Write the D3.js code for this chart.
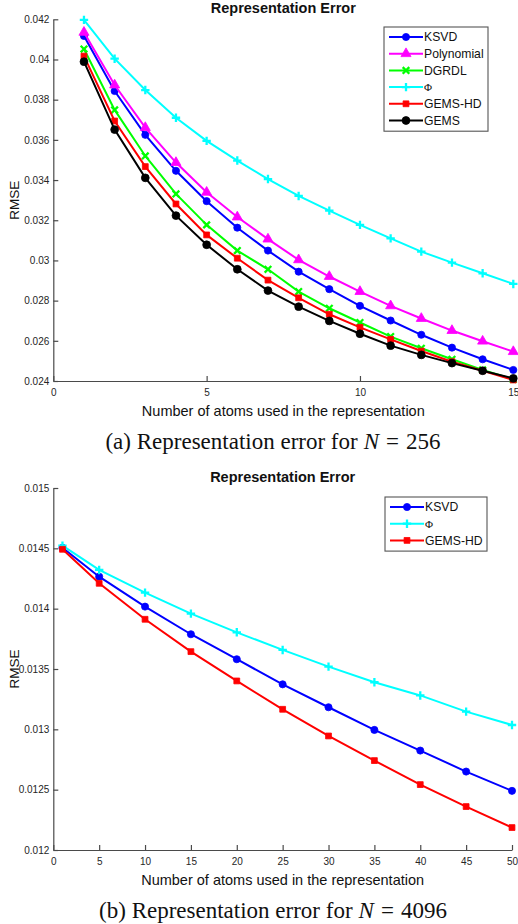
<!DOCTYPE html>
<html>
<head>
<meta charset="utf-8">
<script src="https://cdn.jsdelivr.net/npm/d3@7.9.0/dist/d3.min.js"></script>
<style>
  body { margin: 0; background: #fff; }
  svg { display: block; }
  .axis path, .axis line { stroke: #4a4a4a; stroke-width: 1.2; }
  .axis text { font-family: "Liberation Sans", Arial, sans-serif; font-size: 10px; fill: #262626; }
  .sans { font-family: "Liberation Sans", Arial, sans-serif; fill: #111; }
  .serif { font-family: "Liberation Serif", "Times New Roman", serif; fill: #111; }
</style>
</head>
<body>
<svg id="fig" width="518" height="924"></svg>
<script>
// ---- panel (a): N = 256 ----
const atomsA = [1, 2, 3, 4, 5, 6, 7, 8, 9, 10, 11, 12, 13, 14, 15];
const ksvdA = [0.04117, 0.03843, 0.03625, 0.03446, 0.03295, 0.03163, 0.03049, 0.02944,
  0.02857, 0.02774, 0.02701, 0.02630, 0.02566, 0.02508, 0.02455];
const polyA = [0.04135, 0.03873, 0.03661, 0.03487, 0.03339, 0.03216, 0.03106, 0.03003,
  0.02920, 0.02845, 0.02774, 0.02711, 0.02651, 0.02598, 0.02546];
const dgrdlA = [0.04052, 0.03749, 0.03520, 0.03331, 0.03177, 0.03049, 0.02956, 0.02845,
  0.02762, 0.02691, 0.02621, 0.02563, 0.02508, 0.02455, 0.02408];
const phiA = [0.04197, 0.04004, 0.03848, 0.03710, 0.03595, 0.03497, 0.03405, 0.03321,
  0.03248, 0.03177, 0.03110, 0.03044, 0.02989, 0.02936, 0.02883];
const gemsHdA = [0.04017, 0.03694, 0.03467, 0.03281, 0.03127, 0.03011, 0.02902, 0.02814,
  0.02732, 0.02667, 0.02607, 0.02549, 0.02496, 0.02451, 0.02405];
const gemsA = [0.03989, 0.03651, 0.03411, 0.03223, 0.03078, 0.02956, 0.02850, 0.02770,
  0.02699, 0.02635, 0.02576, 0.02530, 0.02489, 0.02451, 0.02413];
const xTicksA = [0, 5, 10, 15];
const yTicksA = [0.024, 0.026, 0.028, 0.030, 0.032, 0.034, 0.036, 0.038, 0.040, 0.042];
const yTickLabelsA = ["0.024", "0.026", "0.028", "0.03", "0.032", "0.034", "0.036", "0.038", "0.04", "0.042"];

// ---- panel (b): N = 4096 ----
const atomsB = [1, 5, 10, 15, 20, 25, 30, 35, 40, 45, 50];
const ksvdB = [0.014505, 0.014265, 0.014017, 0.013788, 0.013581, 0.013373, 0.013183,
  0.012995, 0.012824, 0.012650, 0.012490];
const phiB = [0.014522, 0.014321, 0.014133, 0.013959, 0.013804, 0.013658, 0.013520,
  0.013390, 0.013281, 0.013147, 0.013036];
const gemsHdB = [0.014492, 0.014210, 0.013912, 0.013644, 0.013401, 0.013166, 0.012945,
  0.012741, 0.012542, 0.012360, 0.012186];
const xTicksB = [0, 5, 10, 15, 20, 25, 30, 35, 40, 45, 50];
const yTicksB = [0.012, 0.0125, 0.013, 0.0135, 0.014, 0.0145, 0.015];
const yTickLabelsB = ["0.012", "0.0125", "0.013", "0.0135", "0.014", "0.0145", "0.015"];

const chartTitle = "Representation Error";
const xLabel = "Number of atoms used in the representation";
const yLabel = "RMSE";

const svg = d3.select("#fig");

// marker shapes
function markerPath(kind) {
  if (kind === "circle") return d3.symbol(d3.symbolCircle, 40)();
  if (kind === "bigcircle") return d3.symbol(d3.symbolCircle, 48)();
  if (kind === "triangle") return d3.symbol(d3.symbolTriangle, 44)();
  if (kind === "square") return d3.symbol(d3.symbolSquare, 34)();
  if (kind === "plus") return "M-4.2,0H4.2M0,-4.2V4.2";
  if (kind === "x") return "M-3.3,-3.3L3.3,3.3M-3.3,3.3L3.3,-3.3";
}
const strokedMarker = (kind) => kind === "plus" || kind === "x";

function drawMarker(g, kind, color, cx, cy) {
  g.append("path")
    .attr("d", markerPath(kind))
    .attr("transform", `translate(${cx},${cy})`)
    .attr("fill", strokedMarker(kind) ? "none" : color)
    .attr("stroke", color)
    .attr("stroke-width", strokedMarker(kind) ? 2.3 : 0.8);
}

function drawPanel(cfg) {
  const g = svg.append("g");
  const x = d3.scaleLinear().domain(cfg.xDomain).range([cfg.left, cfg.right]);
  const y = d3.scaleLinear().domain(cfg.yDomain).range([cfg.bottom, cfg.top]);

  g.append("g")
    .attr("class", "axis")
    .attr("transform", `translate(0,${cfg.bottom})`)
    .call(d3.axisBottom(x).tickValues(cfg.xTicks).tickFormat(d3.format("d"))
      .tickSizeInner(-5).tickSizeOuter(0).tickPadding(8));

  g.append("g")
    .attr("class", "axis")
    .attr("transform", `translate(${cfg.left},0)`)
    .call(d3.axisLeft(y).tickValues(cfg.yTicks).tickFormat((d, i) => cfg.yTickLabels[i])
      .tickSizeInner(-5).tickSizeOuter(0).tickPadding(4));

  // series
  const line = d3.line().x((d) => x(d[0])).y((d) => y(d[1]));
  cfg.series.forEach((s) => {
    const pts = cfg.xs.map((v, i) => [v, s.values[i]]);
    g.append("path")
      .datum(pts)
      .attr("d", line)
      .attr("fill", "none")
      .attr("stroke", s.color)
      .attr("stroke-width", 2);
    pts.forEach((p) => drawMarker(g, s.marker, s.color, x(p[0]), y(p[1])));
  });

  // title & axis labels
  const midX = (cfg.left + cfg.right) / 2;
  g.append("text").attr("class", "sans")
    .attr("x", midX).attr("y", cfg.top - 6)
    .attr("text-anchor", "middle")
    .attr("font-size", 14.5).attr("font-weight", "bold")
    .text(chartTitle);
  g.append("text").attr("class", "sans")
    .attr("x", midX).attr("y", cfg.bottom + 35)
    .attr("text-anchor", "middle")
    .attr("font-size", 14.5)
    .text(xLabel);
  g.append("text").attr("class", "sans")
    .attr("transform", `translate(19,${(cfg.top + cfg.bottom) / 2}) rotate(-90)`)
    .attr("text-anchor", "middle")
    .attr("font-size", 13.5)
    .text(yLabel);

  // legend
  const lg = g.append("g");
  const lh = 16.7;
  lg.append("rect")
    .attr("x", cfg.legend.x).attr("y", cfg.legend.y)
    .attr("width", cfg.legend.w).attr("height", cfg.series.length * lh + 4)
    .attr("fill", "#fff").attr("stroke", "#555").attr("stroke-width", 1.1);
  cfg.series.forEach((s, i) => {
    const cy = cfg.legend.y + 10 + i * lh;
    const x0 = cfg.legend.x + 5;
    lg.append("line")
      .attr("x1", x0).attr("x2", x0 + 34).attr("y1", cy).attr("y2", cy)
      .attr("stroke", s.color).attr("stroke-width", 2);
    drawMarker(lg, s.marker, s.color, x0 + 17, cy);
    const t = lg.append("text")
      .attr("x", x0 + 35).attr("y", cy + 4.3)
      .attr("font-size", 12.2);
    if (s.label === "Φ") {
      t.attr("class", "serif").attr("font-size", 11).text(s.label);
    } else {
      t.attr("class", "sans").text(s.label);
    }
  });

  // caption
  const cap = svg.append("text").attr("class", "serif")
    .attr("x", 273).attr("y", cfg.bottom + 68)
    .attr("text-anchor", "middle")
    .attr("font-size", 23);
  cap.append("tspan").text(cfg.caption[0]);
  cap.append("tspan").attr("dx", 6).attr("font-style", "italic").text("N");
  cap.append("tspan").attr("dx", 7).text("=");
  cap.append("tspan").attr("dx", 7).text(cfg.caption[1]);
}

drawPanel({
  left: 53.3, right: 513.3, top: 19.3, bottom: 381,
  xDomain: [0, 15], yDomain: [0.024, 0.042],
  xTicks: xTicksA, yTicks: yTicksA, yTickLabels: yTickLabelsA,
  xs: atomsA,
  series: [
    { label: "KSVD", values: ksvdA, color: "#0000ff", marker: "circle" },
    { label: "Polynomial", values: polyA, color: "#ff00ff", marker: "triangle" },
    { label: "DGRDL", values: dgrdlA, color: "#00ff00", marker: "x" },
    { label: "Φ", values: phiA, color: "#00ffff", marker: "plus" },
    { label: "GEMS-HD", values: gemsHdA, color: "#ff0000", marker: "square" },
    { label: "GEMS", values: gemsA, color: "#000000", marker: "bigcircle" }
  ],
  legend: { x: 384, y: 27, w: 104 },
  caption: ["(a) Representation error for", "256"]
});

drawPanel({
  left: 53.3, right: 512, top: 488, bottom: 850,
  xDomain: [0, 50], yDomain: [0.012, 0.015],
  xTicks: xTicksB, yTicks: yTicksB, yTickLabels: yTickLabelsB,
  xs: atomsB,
  series: [
    { label: "KSVD", values: ksvdB, color: "#0000ff", marker: "circle" },
    { label: "Φ", values: phiB, color: "#00ffff", marker: "plus" },
    { label: "GEMS-HD", values: gemsHdB, color: "#ff0000", marker: "square" }
  ],
  legend: { x: 385, y: 497, w: 102 },
  caption: ["(b) Representation error for", "4096"]
});
</script>
</body>
</html>
